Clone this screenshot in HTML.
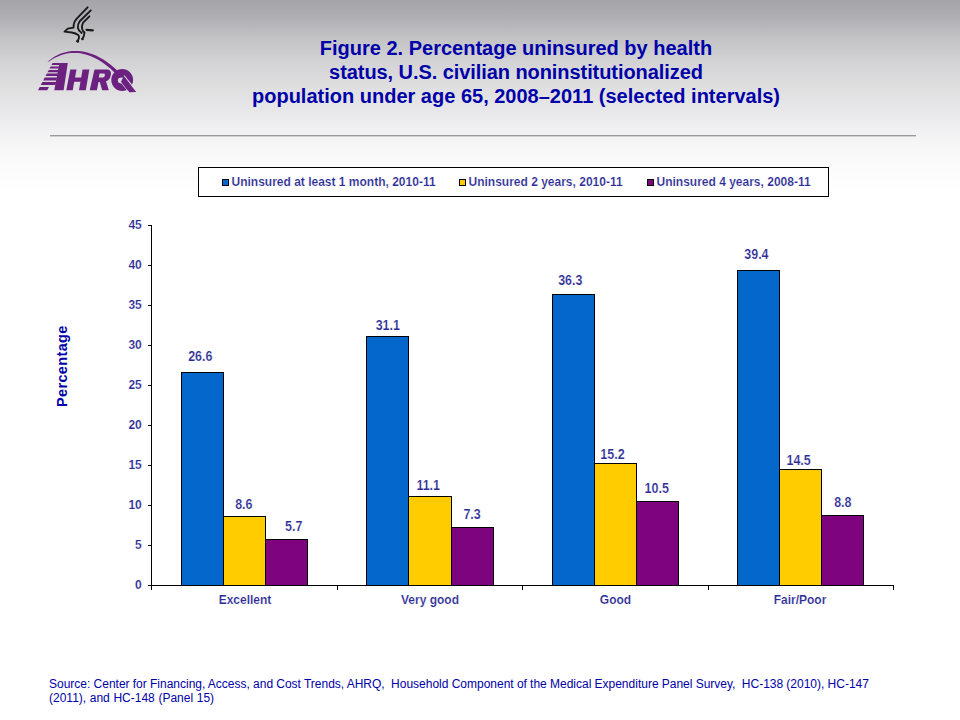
<!DOCTYPE html>
<html><head><meta charset="utf-8"><title>Figure 2</title>
<style>
html,body{margin:0;padding:0;}
body{width:960px;height:720px;position:relative;overflow:hidden;background:#fff;font-family:"Liberation Sans",sans-serif;}
#bg{position:absolute;left:0;top:0;width:960px;height:200px;background:linear-gradient(to bottom,#a4a4a8 0px,#b2b2b6 20px,#c4c4c7 40px,#d2d2d5 60px,#dededf 85px,#e9e9eb 115px,#f3f3f4 135px,#f9f9fa 155px,#fcfcfd 175px,#ffffff 195px);}
#title{position:absolute;left:216px;top:36px;width:600px;text-align:center;font-weight:bold;font-size:20px;line-height:24px;color:#0000a8;white-space:nowrap;}
#rule{position:absolute;left:50px;top:135px;width:866px;height:1px;background:#999;box-shadow:0 1px 0 #d0d0d0;}
#legend{position:absolute;left:198px;top:167px;width:629px;height:28px;border:1px solid #000;background:#fff;}
.lg{position:absolute;top:7px;font-weight:bold;font-size:12px;line-height:14px;color:#2b2b95;white-space:nowrap;-webkit-text-stroke:0.15px #fff;}
.sw{position:absolute;top:11px;width:5px;height:5px;border:1px solid #000;}
svg{position:absolute;left:0;top:0;}
.lb{font-family:"Liberation Sans",sans-serif;font-weight:bold;font-size:12px;fill:#2b2b95;stroke:#fff;stroke-width:0.15px;}
.dl{font-family:"Liberation Sans",sans-serif;font-weight:bold;font-size:14.2px;fill:#2b2b95;stroke:#fff;stroke-width:0.2px;}
#ylab{position:absolute;left:22.3px;top:358.2px;width:80px;height:18px;line-height:18px;text-align:center;font-weight:bold;font-size:14.5px;letter-spacing:0.35px;color:#0000a8;transform:rotate(-90deg);transform-origin:50% 50%;white-space:nowrap;}
#src{position:absolute;left:49px;top:676.75px;width:880px;font-size:12px;line-height:14.5px;word-spacing:-0.14px;color:#0000a8;white-space:nowrap;}
</style></head><body>
<div id="bg"></div>
<svg id="logo" width="160" height="110" viewBox="0 0 160 110">
<g fill="none" stroke="#1a1a1a" stroke-width="1.9" stroke-linecap="round" stroke-linejoin="round">
<path d="M87.6 7.3 L76.5 18.8 Q74.1 21.5 73.8 24.3 L73.5 27.6 L67.8 28.6 L64.5 31.6 L71.7 32.5 Q75.8 33.3 78.3 35.1 Q80.0 36.8 77.6 41.3"/>
<path d="M90.8 10.4 L79.7 21.2 Q77.6 24.3 77.9 27.8 Q78.3 30.6 81.7 33.0"/>
<path d="M89.4 16.3 L83.1 22.6 Q81.4 25.7 82.2 29.2 Q82.8 31.2 84.5 32.6 L83.8 36.1 L82.4 38.9"/>
<path d="M86.6 29.9 L92.8 30.3" stroke-width="2.2"/>
<path d="M77.4 41.1 L77.9 41.4" stroke-width="2.6"/>
<path d="M82.3 38.9 L82.6 39.2" stroke-width="2.2"/>
</g>
<defs><mask id="qm" maskUnits="userSpaceOnUse" x="100" y="60" width="50" height="40"><rect x="100" y="60" width="50" height="40" fill="#fff"/><path d="M124.0,75.7 L136.7,91.5" stroke="#000" stroke-width="1.3"/><path d="M120.3,81.45 L129.1,92.45" stroke="#000" stroke-width="0.9"/></mask></defs><g fill="#6c2080"><polygon points="59.3,63 67.8,63 63.6,90.3 54.3,90.3"/>
<polygon points="52.55,62.9 59.62,62.9 59.25,64.9 51.49,64.9"/>
<polygon points="50.64,66.5 58.96,66.5 58.58,68.6 49.53,68.6"/>
<polygon points="48.84,69.9 58.34,69.9 57.90,72.3 47.56,72.3"/>
<polygon points="46.87,73.6 57.66,73.6 57.22,76 45.60,76"/>
<polygon points="44.75,77.6 56.93,77.6 56.42,80.4 43.26,80.4"/>
<polygon points="42.36,82.1 56.10,82.1 55.56,85.1 40.76,85.1"/>
<polygon points="39.76,87 48.96,87 47.20,90.3 38.00,90.3"/>
<polygon points="70.3,69.5 76.5,69.5 72.7,90.2 66.3,90.2"/>
<polygon points="82.6,69.5 89.3,69.5 85.8,90.2 79,90.2"/>
<polygon points="74,77.4 84,77.4 83,81.7 73,81.7"/>
<path fill-rule="evenodd" d="M94.5,69.5 L106.5,69.5 C110,69.5 111.3,71.5 110.9,74.5 C110.5,78 108.5,80.5 106,81.3 L108.8,90.2 L102.2,90.2 L99.8,82 L98.5,82 L96.9,90.2 L89.7,90.2 Z M99.6,73.4 L104,73.4 C105,73.4 105,74.5 104.8,75.4 C104.6,76.6 104,77.4 103,77.4 L98.8,77.4 Z"/>
<g mask="url(#qm)"><path fill-rule="evenodd" d="M111.3,80 a10.9,10.9 0 1,0 21.8,0 a10.9,10.9 0 1,0 -21.8,0 Z M117.8,80.6 a4.0,3.0 0 1,0 8.0,0 a4.0,3.0 0 1,0 -8.0,0 Z"/></g><polygon points="123.8,76 136.2,91.9 129.4,92.2 121.0,81.7"/>
<polygon points="47.67,61.74 49.17,60.49 50.71,59.29 52.29,58.16 53.92,57.09 55.59,56.09 57.30,55.18 59.07,54.36 60.88,53.62 62.72,52.96 64.60,52.38 66.51,51.89 68.46,51.49 70.45,51.19 72.46,51.00 74.51,50.91 76.58,50.92 78.68,51.03 80.81,51.25 82.96,51.57 85.13,52.00 87.33,52.55 89.54,53.20 91.79,53.94 94.06,54.80 96.35,55.79 98.65,56.91 100.96,58.16 103.29,59.54 105.63,61.05 107.99,62.69 110.35,64.47 112.73,66.39 115.11,68.45 117.49,70.66 119.86,73.03 117.42,75.40 115.12,73.09 112.85,70.92 110.60,68.87 108.36,66.95 106.13,65.17 103.92,63.53 101.71,62.01 99.52,60.61 97.34,59.34 95.19,58.19 93.05,57.15 90.92,56.22 88.81,55.40 86.71,54.72 84.63,54.16 82.56,53.71 80.52,53.36 78.50,53.12 76.51,52.97 74.53,52.92 72.58,52.97 70.65,53.11 68.75,53.33 66.87,53.62 65.02,54.01 63.19,54.48 61.38,55.03 59.61,55.67 57.86,56.38 56.13,57.15 54.43,57.99 52.75,58.90 51.11,59.88 49.50,60.93 47.93,62.06"/></g>
</svg>
<div id="title">Figure 2. Percentage uninsured by health<br><span style="letter-spacing:-0.07px">status, U.S. civilian noninstitutionalized</span><br>population under age 65, 2008–2011 (selected intervals)</div>
<div id="rule"></div>
<div id="legend">
<div class="sw" style="left:23px;background:#0367cc"></div><div class="lg" style="left:32.5px">Uninsured at least 1 month, 2010-11</div>
<div class="sw" style="left:260px;background:#ffcc00"></div><div class="lg" style="left:269.5px">Uninsured 2 years, 2010-11</div>
<div class="sw" style="left:448px;background:#7d037f"></div><div class="lg" style="left:457.5px">Uninsured 4 years, 2008-11</div>
</div>
<svg width="960" height="720" viewBox="0 0 960 720">
<rect x="181.5" y="372.5" width="42.0" height="213.0" fill="#0367cc" stroke="#000" stroke-width="1"/>
<text transform="translate(200.3,361.0) scale(0.88,1)" text-anchor="middle" class="dl">26.6</text>
<rect x="223.5" y="516.5" width="42.0" height="69.0" fill="#ffcc00" stroke="#000" stroke-width="1"/>
<text transform="translate(243.8,509.0) scale(0.88,1)" text-anchor="middle" class="dl">8.6</text>
<rect x="265.5" y="539.5" width="42.0" height="46.0" fill="#7d037f" stroke="#000" stroke-width="1"/>
<text transform="translate(293.7,530.9) scale(0.88,1)" text-anchor="middle" class="dl">5.7</text>
<rect x="366.5" y="336.5" width="42.0" height="249.0" fill="#0367cc" stroke="#000" stroke-width="1"/>
<text transform="translate(387.8,330.1) scale(0.88,1)" text-anchor="middle" class="dl">31.1</text>
<rect x="408.5" y="496.5" width="43.0" height="89.0" fill="#ffcc00" stroke="#000" stroke-width="1"/>
<text transform="translate(428.2,490.0) scale(0.88,1)" text-anchor="middle" class="dl">11.1</text>
<rect x="451.5" y="527.5" width="42.0" height="58.0" fill="#7d037f" stroke="#000" stroke-width="1"/>
<text transform="translate(472.1,519.0) scale(0.88,1)" text-anchor="middle" class="dl">7.3</text>
<rect x="552.5" y="294.5" width="42.0" height="291.0" fill="#0367cc" stroke="#000" stroke-width="1"/>
<text transform="translate(570.3,285.1) scale(0.88,1)" text-anchor="middle" class="dl">36.3</text>
<rect x="594.5" y="463.5" width="42.0" height="122.0" fill="#ffcc00" stroke="#000" stroke-width="1"/>
<text transform="translate(612.5,459.1) scale(0.88,1)" text-anchor="middle" class="dl">15.2</text>
<rect x="636.5" y="501.5" width="42.0" height="84.0" fill="#7d037f" stroke="#000" stroke-width="1"/>
<text transform="translate(656.7,492.9) scale(0.88,1)" text-anchor="middle" class="dl">10.5</text>
<rect x="737.5" y="270.5" width="42.0" height="315.0" fill="#0367cc" stroke="#000" stroke-width="1"/>
<text transform="translate(756.4,259.2) scale(0.88,1)" text-anchor="middle" class="dl">39.4</text>
<rect x="779.5" y="469.5" width="42.0" height="116.0" fill="#ffcc00" stroke="#000" stroke-width="1"/>
<text transform="translate(798.6,465.0) scale(0.88,1)" text-anchor="middle" class="dl">14.5</text>
<rect x="821.5" y="515.5" width="42.0" height="70.0" fill="#7d037f" stroke="#000" stroke-width="1"/>
<text transform="translate(842.8,507.0) scale(0.88,1)" text-anchor="middle" class="dl">8.8</text>
<path d="M151.5 225 V590 M148 585.5 H894.0" stroke="#000" stroke-width="1" fill="none"/>
<text x="141.8" y="588.8" text-anchor="end" class="lb">0</text>
<text x="141.8" y="548.8" text-anchor="end" class="lb">5</text>
<text x="141.8" y="508.8" text-anchor="end" class="lb">10</text>
<text x="141.8" y="468.8" text-anchor="end" class="lb">15</text>
<text x="141.8" y="428.8" text-anchor="end" class="lb">20</text>
<text x="141.8" y="388.8" text-anchor="end" class="lb">25</text>
<text x="141.8" y="348.8" text-anchor="end" class="lb">30</text>
<text x="141.8" y="308.8" text-anchor="end" class="lb">35</text>
<text x="141.8" y="268.8" text-anchor="end" class="lb">40</text>
<text x="141.8" y="228.8" text-anchor="end" class="lb">45</text>
<path d="M148 585.5 H151.5 M148 545.5 H151.5 M148 505.5 H151.5 M148 465.5 H151.5 M148 425.5 H151.5 M148 385.5 H151.5 M148 345.5 H151.5 M148 305.5 H151.5 M148 265.5 H151.5 M148 225.5 H151.5 M337.5 585.5 V590 M522.5 585.5 V590 M708.5 585.5 V590 M893.5 585.5 V590 " stroke="#000" stroke-width="1" fill="none"/>
<text x="245" y="604" text-anchor="middle" class="lb">Excellent</text>
<text x="430" y="604" text-anchor="middle" class="lb">Very good</text>
<text x="615.5" y="604" text-anchor="middle" class="lb">Good</text>
<text x="800" y="604" text-anchor="middle" class="lb">Fair/Poor</text>
</svg>
<div id="ylab">Percentage</div>
<div id="src">Source: Center for Financing, Access, and Cost Trends, AHRQ, &nbsp;Household Component of the Medical Expenditure Panel Survey, &nbsp;HC-138 (2010), HC-147<br><span style="word-spacing:0.3px">(2011), and HC-148 (Panel 15)</span></div>
</body></html>
